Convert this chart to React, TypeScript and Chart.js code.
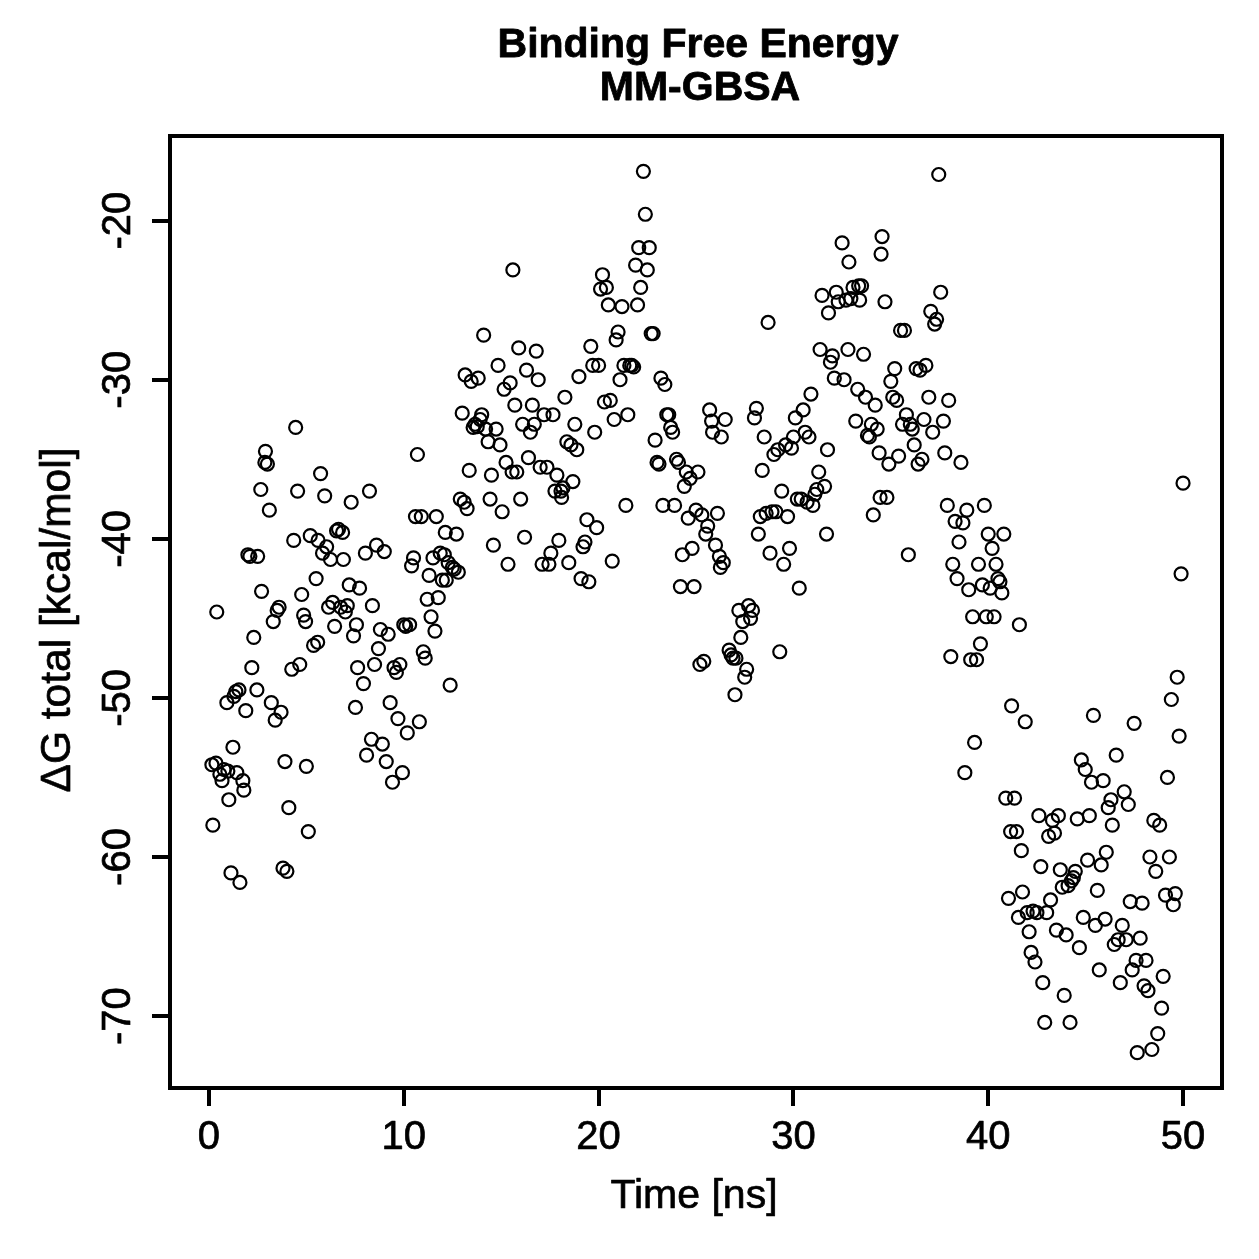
import React, { useEffect, useRef } from "react";
import { Chart, registerables } from "chart.js";

Chart.register(...registerables);

const titleLines = ["Binding Free Energy", "MM-GBSA"];
const xAxisTitle = "Time [ns]";
const yAxisTitle = "ΔG total [kcal/mol]";

const xTicks = [0, 10, 20, 30, 40, 50];
const xTickLabels = ["0", "10", "20", "30", "40", "50"];
const yTicks = [-70, -60, -50, -40, -30, -20];
const yTickLabels = ["-70", "-60", "-50", "-40", "-30", "-20"];

const xRange = [-2, 52];
const yRange = [-74.52, -14.68];

const timeNs = [
  0.15, 0.2, 0.36, 0.4, 0.56, 0.67, 0.77, 0.92, 0.97, 1.02, 1.13, 1.23, 1.28, 1.38, 1.43, 1.54, 1.59, 1.74, 1.79, 1.89,
  2.0, 2.1, 2.2, 2.3, 2.46, 2.5, 2.66, 2.7, 2.87, 2.9, 3.0, 3.1, 3.2, 3.3, 3.4, 3.5, 3.6, 3.7, 3.8, 3.9,
  4.0, 4.1, 4.25, 4.35, 4.45, 4.55, 4.66, 4.76, 4.86, 4.96, 5.0, 5.1, 5.2, 5.37, 5.5, 5.58, 5.6, 5.73, 5.83, 5.94,
  6.04, 6.14, 6.24, 6.35, 6.45, 6.55, 6.65, 6.76, 6.86, 6.9, 7.0, 7.1, 7.2, 7.3, 7.42, 7.52, 7.57, 7.63, 7.73, 7.93,
  8.03, 8.09, 8.24, 8.34, 8.39, 8.5, 8.6, 8.7, 8.8, 8.9, 9.0, 9.1, 9.2, 9.3, 9.42, 9.5, 9.62, 9.7, 9.8, 9.93,
  10.0, 10.1, 10.18, 10.3, 10.4, 10.5, 10.6, 10.7, 10.8, 10.9, 11.0, 11.1, 11.2, 11.3, 11.4, 11.5, 11.6, 11.67, 11.77, 11.87,
  11.98, 12.08, 12.13, 12.18, 12.28, 12.38, 12.49, 12.59, 12.7, 12.8, 12.9, 13.0, 13.1, 13.15, 13.25, 13.36, 13.46, 13.56, 13.66, 13.77,
  13.82, 13.92, 14.0, 14.1, 14.2, 14.33, 14.43, 14.5, 14.6, 14.74, 14.84, 14.94, 15.05, 15.15, 15.25, 15.35, 15.46, 15.56, 15.6, 15.7,
  15.8, 15.9, 16.0, 16.1, 16.2, 16.3, 16.4, 16.5, 16.6, 16.7, 16.8, 16.9, 17.0, 17.1, 17.2, 17.35, 17.45, 17.55, 17.66, 17.76,
  17.86, 17.96, 18.07, 18.1, 18.17, 18.27, 18.37, 18.47, 18.58, 18.68, 18.78, 18.88, 18.99, 19.1, 19.2, 19.3, 19.4, 19.5, 19.6, 19.7,
  19.8, 19.9, 20.0, 20.1, 20.2, 20.3, 20.4, 20.5, 20.6, 20.7, 20.8, 20.9, 21.0, 21.1, 21.2, 21.3, 21.4, 21.5, 21.6, 21.7,
  21.8, 21.9, 22.0, 22.06, 22.16, 22.3, 22.4, 22.5, 22.6, 22.7, 22.8, 22.9, 23.0, 23.1, 23.2, 23.3, 23.4, 23.5, 23.6, 23.7,
  23.8, 23.9, 24.0, 24.1, 24.2, 24.3, 24.4, 24.5, 24.6, 24.7, 24.8, 24.9, 25.0, 25.1, 25.2, 25.3, 25.4, 25.5, 25.6, 25.7,
  25.8, 25.85, 26.0, 26.1, 26.2, 26.25, 26.3, 26.4, 26.5, 26.7, 26.8, 26.9, 27.0, 27.05, 27.2, 27.3, 27.4, 27.5, 27.6, 27.7,
  27.8, 27.9, 28.0, 28.1, 28.2, 28.3, 28.4, 28.5, 28.6, 28.7, 28.8, 28.9, 29.0, 29.1, 29.2, 29.3, 29.4, 29.5, 29.6, 29.7,
  29.8, 29.9, 30.0, 30.1, 30.2, 30.3, 30.4, 30.5, 30.6, 30.7, 30.8, 30.9, 31.0, 31.1, 31.2, 31.3, 31.37, 31.47, 31.6, 31.7,
  31.75, 31.8, 31.9, 32.0, 32.1, 32.2, 32.3, 32.5, 32.6, 32.7, 32.8, 32.85, 32.95, 33.06, 33.2, 33.3, 33.35, 33.4, 33.5, 33.6,
  33.7, 33.8, 33.9, 34.0, 34.1, 34.2, 34.3, 34.4, 34.45, 34.5, 34.55, 34.7, 34.8, 34.9, 35.0, 35.1, 35.2, 35.3, 35.4, 35.5,
  35.6, 35.7, 35.8, 35.9, 36.0, 36.1, 36.2, 36.3, 36.4, 36.5, 36.6, 36.7, 36.8, 36.95, 37.05, 37.15, 37.25, 37.35, 37.46, 37.56,
  37.7, 37.77, 37.9, 37.97, 38.08, 38.18, 38.3, 38.4, 38.5, 38.6, 38.7, 38.8, 38.9, 39.0, 39.1, 39.2, 39.3, 39.4, 39.5, 39.6,
  39.7, 39.8, 39.9, 40.0, 40.1, 40.2, 40.3, 40.4, 40.5, 40.6, 40.7, 40.8, 40.9, 41.04, 41.15, 41.2, 41.35, 41.45, 41.55, 41.6,
  41.7, 41.76, 41.9, 42.0, 42.1, 42.2, 42.3, 42.4, 42.5, 42.6, 42.7, 42.8, 42.9, 43.0, 43.1, 43.2, 43.3, 43.4, 43.5, 43.6,
  43.7, 43.8, 43.9, 44.0, 44.1, 44.2, 44.27, 44.37, 44.47, 44.57, 44.68, 44.78, 44.88, 44.98, 45.1, 45.19, 45.3, 45.4, 45.5, 45.6,
  45.7, 45.8, 45.9, 46.0, 46.06, 46.16, 46.3, 46.37, 46.47, 46.57, 46.67, 46.78, 46.88, 46.98, 47.08, 47.19, 47.29, 47.39, 47.49, 47.59,
  47.65, 47.8, 47.9, 48.0, 48.1, 48.2, 48.3, 48.4, 48.5, 48.6, 48.7, 48.8, 48.9, 48.98, 49.1, 49.2, 49.3, 49.4, 49.5, 49.6,
  49.7, 49.8, 49.9, 50.0,
];

const deltaG = [
  -54.2, -58.0, -54.1, -44.6, -54.8, -55.2, -54.5, -50.3, -54.6, -56.4, -61.0, -53.1, -49.9, -49.6, -54.7, -49.5, -61.6, -55.2, -55.8, -50.8,
  -41.0, -41.1, -48.1, -46.2, -49.5, -41.1, -36.9, -43.3, -35.2, -34.5, -35.3, -38.2, -50.3, -45.2, -51.4, -44.5, -44.3, -50.9, -60.7, -54.0,
  -60.9, -56.9, -48.2, -40.1, -33.0, -37.0, -47.9, -43.5, -44.8, -45.2, -54.3, -58.4, -39.8, -46.7, -42.5, -46.5, -40.1, -35.9, -40.9, -37.3,
  -40.5, -44.3, -41.3, -44.0, -45.5, -39.5, -39.4, -44.3, -39.6, -41.3, -44.6, -44.2, -42.9, -37.7, -46.1, -50.6, -45.4, -48.1, -43.1, -49.1,
  -40.9, -53.6, -37.0, -52.6, -44.2, -47.9, -40.4, -46.9, -45.7, -52.9, -40.8, -54.0, -46.0, -50.3, -55.3, -48.1, -48.4, -51.3, -47.9, -54.7,
  -45.4, -45.5, -52.2, -45.4, -41.7, -41.2, -38.6, -34.7, -51.5, -38.6, -47.1, -47.5, -43.8, -42.3, -44.9, -41.2, -45.8, -38.6, -43.7, -40.9,
  -42.6, -41.0, -39.6, -42.6, -41.5, -49.2, -41.8, -41.9, -39.7, -42.1, -37.5, -32.1, -37.7, -29.7, -38.1, -35.7, -30.1, -33.0, -32.8, -32.95,
  -29.9, -32.5, -32.2, -27.2, -33.1, -33.9, -37.5, -36.0, -40.4, -33.1, -29.1, -34.1, -38.3, -30.6, -35.2, -41.6, -30.2, -35.8, -23.1, -31.6,
  -35.8, -28.0, -37.5, -32.8, -39.9, -29.4, -34.9, -33.3, -31.6, -32.8, -28.2, -30.0, -35.5, -41.6, -32.2, -35.5, -41.6, -40.9, -32.2, -37.0,
  -36.0, -40.1, -37.0, -37.4, -36.8, -31.1, -33.9, -41.5, -34.1, -36.4, -32.8, -34.4, -29.8, -42.5, -40.5, -40.2, -38.8, -42.7, -27.9, -29.1,
  -33.3, -39.3, -29.1, -24.3, -23.4, -31.4, -24.2, -25.3, -31.3, -41.4, -32.5, -27.5, -27.0, -30.0, -25.4, -29.1, -37.9, -32.2, -29.1, -29.1,
  -29.2, -22.8, -25.3, -21.7, -24.2, -16.9, -19.6, -23.1, -21.7, -27.1, -27.1, -33.8, -35.2, -35.3, -29.9, -37.9, -30.3, -32.2, -32.2, -33.0,
  -33.3, -37.9, -35.0, -35.2, -43.0, -41.0, -36.7, -35.8, -38.7, -36.2, -40.6, -43.0, -38.2, -35.8, -47.9, -38.5, -47.7, -39.7, -39.2, -31.9,
  -32.6, -33.3, -40.4, -38.4, -41.1, -41.8, -33.6, -41.5, -32.5, -47.0, -47.3, -47.5, -49.8, -47.5, -44.5, -46.2, -45.2, -48.7, -48.2, -44.2,
  -45.0, -44.5, -32.4, -31.8, -39.7, -38.6, -35.7, -33.6, -38.4, -26.4, -40.9, -38.3, -34.7, -38.3, -34.4, -47.1, -37.0, -41.6, -34.1, -38.6,
  -40.6, -34.3, -33.6, -32.4, -37.5, -43.1, -37.5, -31.9, -33.3, -37.7, -33.6, -30.9, -37.9, -37.2, -36.9, -35.8, -28.1, -24.7, -36.7, -39.7,
  -34.4, -25.8, -28.9, -28.5, -29.9, -24.5, -25.1, -21.4, -30.0, -25.0, -28.1, -22.6, -24.9, -24.2, -32.6, -30.6, -24.1, -25.0, -24.1, -28.4,
  -31.1, -33.5, -33.6, -32.8, -38.5, -31.6, -33.1, -34.6, -37.4, -22.1, -21.0, -25.1, -37.4, -35.3, -30.1, -31.1, -29.3, -31.3, -34.8, -26.9,
  -32.8, -26.9, -32.2, -41.0, -32.8, -33.1, -34.1, -29.3, -35.3, -29.4, -35.0, -32.5, -29.1, -31.1, -25.7, -33.3, -26.5, -26.2, -17.1, -24.5,
  -32.6, -34.6, -37.9, -31.3, -47.4, -41.6, -38.9, -42.5, -40.2, -35.2, -39.0, -54.7, -38.2, -43.2, -47.6, -44.9, -52.8, -47.6, -41.6, -46.6,
  -42.9, -37.9, -44.9, -39.7, -43.1, -40.6, -44.9, -41.6, -42.5, -42.7, -43.4, -39.7, -56.3, -62.6, -58.4, -50.5, -56.3, -58.4, -63.8, -45.4,
  -59.6, -62.2, -51.5, -63.5, -64.7, -66.0, -63.4, -66.6, -63.5, -57.4, -60.6, -67.9, -70.4, -63.5, -58.7, -62.7, -57.7, -58.5, -64.6, -57.4,
  -60.8, -61.9, -68.7, -64.9, -61.8, -70.4, -61.5, -61.3, -60.9, -57.6, -65.7, -53.9, -63.8, -54.5, -60.2, -57.4, -55.3, -51.1, -64.3, -62.1,
  -67.1, -60.5, -55.2, -63.9, -59.7, -56.9, -56.4, -58.0, -65.5, -53.6, -65.2, -67.9, -64.3, -55.9, -65.2, -56.7, -62.8, -67.1, -51.6, -66.5,
  -72.3, -65.1, -62.9, -68.1, -66.5, -68.4, -60.0, -72.1, -57.7, -60.9, -71.1, -58.0, -69.5, -67.5, -62.4, -55.0, -60.0, -50.1, -63.0, -62.3,
  -48.7, -52.4, -42.2, -36.5,
];

const FONT = '"Liberation Sans", Arial, Helvetica, sans-serif';

function drawText(ctx: any, text: string, x: number, y: number, stroke: number) {
  ctx.fillText(text, x, y);
  if (stroke > 0) {
    ctx.lineWidth = stroke;
    ctx.strokeText(text, x, y);
  }
}

const textPlugin = {
  id: "rStyleText",
  afterDraw(chart: any) {
    const { ctx, chartArea: ca, scales } = chart;
    ctx.save();
    // frame
    ctx.strokeStyle = "#000";
    ctx.lineWidth = 4;
    ctx.strokeRect(ca.left, ca.top, ca.right - ca.left, ca.bottom - ca.top);

    ctx.fillStyle = "#000";
    ctx.lineJoin = "round";
    const cx = (ca.left + ca.right) / 2;
    const cy = (ca.top + ca.bottom) / 2;

    // title
    ctx.font = `bold 41px ${FONT}`;
    ctx.textAlign = "center";
    ctx.textBaseline = "alphabetic";
    drawText(ctx, titleLines[0], cx + 2, 57, 0.8);
    drawText(ctx, titleLines[1], cx + 4, 100, 0.8);

    // x tick labels
    ctx.font = `40px ${FONT}`;
    xTicks.forEach((v, i) => {
      drawText(ctx, xTickLabels[i], scales.x.getPixelForValue(v), ca.bottom + 61, 0.7);
    });

    // y tick labels (rotated)
    yTicks.forEach((v, i) => {
      const y = scales.y.getPixelForValue(v);
      ctx.save();
      ctx.translate(ca.left - 40, y);
      ctx.rotate(-Math.PI / 2);
      drawText(ctx, yTickLabels[i], 0, 0, 0.7);
      ctx.restore();
    });

    // axis titles
    ctx.font = `41px ${FONT}`;
    drawText(ctx, xAxisTitle, cx - 2, 1208, 0.7);
    ctx.save();
    ctx.font = `42.5px ${FONT}`;
    ctx.translate(70, cy + 8);
    ctx.rotate(-Math.PI / 2);
    drawText(ctx, yAxisTitle, 0, 0, 0.7);
    ctx.restore();

    ctx.restore();
  },
};

export default function App() {
  const canvasRef = useRef<HTMLCanvasElement | null>(null);

  useEffect(() => {
    const canvas = canvasRef.current;
    if (!canvas) return;
    const points = timeNs.map((t, i) => ({ x: t, y: deltaG[i] }));
    const chart = new Chart(canvas, {
      type: "scatter",
      data: {
        datasets: [
          {
            data: points,
            pointStyle: "circle",
            pointRadius: 6.5,
            pointBorderWidth: 2.2,
            borderColor: "#000",
            backgroundColor: "rgba(0,0,0,0)",
            pointBackgroundColor: "rgba(0,0,0,0)",
            pointBorderColor: "#000",
          },
        ],
      },
      options: {
        responsive: false,
        animation: false,
        devicePixelRatio: 1,
        events: [],
        layout: { padding: { top: 136, right: 37, left: 0, bottom: 0 }, autoPadding: false },
        plugins: { legend: { display: false }, title: { display: false }, tooltip: { enabled: false } },
        scales: {
          x: {
            type: "linear",
            position: "bottom",
            min: xRange[0],
            max: xRange[1],
            afterBuildTicks: (s: any) => {
              s.ticks = xTicks.map((v) => ({ value: v }));
            },
            afterFit: (s: any) => {
              s.height = 171;
            },
            ticks: { display: false },
            border: { display: false },
            grid: { display: true, drawOnChartArea: false, drawTicks: true, tickLength: 18, lineWidth: 4, color: "#000" },
          },
          y: {
            type: "linear",
            position: "left",
            min: yRange[0],
            max: yRange[1],
            afterBuildTicks: (s: any) => {
              s.ticks = yTicks.map((v) => ({ value: v }));
            },
            afterFit: (s: any) => {
              s.width = 170;
            },
            ticks: { display: false },
            border: { display: false },
            grid: { display: true, drawOnChartArea: false, drawTicks: true, tickLength: 18, lineWidth: 4, color: "#000" },
          },
        },
      },
      plugins: [textPlugin],
    });
    return () => chart.destroy();
  }, []);

  return (
    <div style={{ position: "fixed", left: 0, top: 0, width: 1259, height: 1259, background: "#fff" }}>
      <canvas ref={canvasRef} width={1259} height={1259} style={{ display: "block", width: 1259, height: 1259 }} />
    </div>
  );
}
